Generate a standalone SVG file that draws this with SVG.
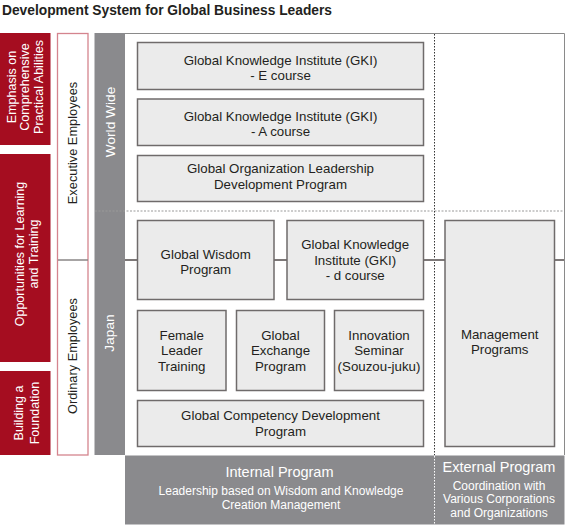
<svg xmlns="http://www.w3.org/2000/svg" width="565" height="525" viewBox="0 0 565 525">
<style>
text{font-family:"Liberation Sans",Arial,sans-serif;}
.title{font-size:15px;font-weight:bold;fill:#231f20;}
.red{fill:#a50d20;}
.rtxt{font-size:12.5px;fill:#ffffff;text-anchor:middle;}
.ptxt{font-size:12.8px;fill:#231f20;text-anchor:middle;}
.gtxt{font-size:13.7px;fill:#ffffff;text-anchor:middle;}
.box{fill:#ebebeb;stroke:#6f6b6b;stroke-width:1.5;}
.btxt{font-size:13.3px;fill:#231f20;text-anchor:middle;}
.band{fill:#8a8a8d;}
.bh{font-size:14.5px;fill:#ffffff;text-anchor:middle;}
.bs{font-size:12px;fill:#ffffff;text-anchor:middle;}
</style>
<text class="title" x="2" y="15" textLength="330" lengthAdjust="spacingAndGlyphs">Development System for Global Business Leaders</text>

<g id="emphasis">
<rect class="red" x="0" y="33" width="50.5" height="112"/>
<text class="rtxt" transform="translate(0,87) rotate(-90)"><tspan x="0" y="15.5">Emphasis on</tspan><tspan x="0" y="29">Comprehensive</tspan><tspan x="0" y="42.5">Practical Abilities</tspan></text>
</g>
<g id="opportunities">
<rect class="red" x="0" y="154" width="50.5" height="208"/>
<text class="rtxt" transform="translate(0,254) rotate(-90)"><tspan x="0" y="23.5">Opportunities for Learning</tspan><tspan x="0" y="38">and Training</tspan></text>
</g>
<g id="foundation">
<rect class="red" x="0" y="371" width="50.5" height="84"/>
<text class="rtxt" transform="translate(0,413) rotate(-90)"><tspan x="0" y="22.5">Building a</tspan><tspan x="0" y="38.5">Foundation</tspan></text>
</g>

<g id="employees">
<rect x="57.5" y="33.5" width="30.5" height="421.5" fill="#ffffff" stroke="#d4848e" stroke-width="1.3"/>
<line x1="58" y1="260" x2="88" y2="260" stroke="#8a8686" stroke-width="1.5"/>
<text class="ptxt" transform="translate(0,143) rotate(-90)" x="0" y="77">Executive Employees</text>
<text class="ptxt" transform="translate(0,356) rotate(-90)" x="0" y="77">Ordinary Employees</text>
</g>

<g id="region">
<rect x="94.5" y="33" width="30.5" height="422" fill="#8a8a8d"/>
<path d="M125 33.5H564.5V455" fill="none" stroke="#8a8a8a" stroke-width="1"/>
<text class="gtxt" transform="translate(0,122) rotate(-90)" x="0" y="114.5">World Wide</text>
<text class="gtxt" transform="translate(0,333) rotate(-90)" x="0" y="113.5">Japan</text>
</g>

<g id="bottom">
<rect class="band" x="125" y="455.5" width="439.5" height="69"/>
<text class="bh" x="279.5" y="477">Internal Program</text>
<text class="bs" x="281" y="495">Leadership based on Wisdom and Knowledge</text>
<text class="bs" x="281" y="509">Creation Management</text>
<text class="bh" x="499" y="472">External Program</text>
<text class="bs" x="499" y="489.5">Coordination with</text>
<text class="bs" x="499" y="503">Various Corporations</text>
<text class="bs" x="499" y="516.5">and Organizations</text>
</g>

<g id="connectors">
<line x1="95" y1="211" x2="564" y2="211" stroke="#9a9a9a" stroke-width="1.2" stroke-dasharray="2,1.5"/>
<line x1="434.5" y1="34" x2="434.5" y2="455" stroke="#333333" stroke-width="1" stroke-dasharray="1.5,1.5"/>
<line x1="434.5" y1="456" x2="434.5" y2="524" stroke="#ffffff" stroke-width="1" stroke-dasharray="1.5,1.5"/>
<line x1="125" y1="260" x2="564" y2="260" stroke="#7d7878" stroke-width="1.8"/>
</g>

<g id="gki-e">
<rect class="box" x="137.5" y="42.5" width="286" height="47"/>
<text class="btxt"><tspan x="280.5" y="64.5">Global Knowledge Institute (GKI)</tspan><tspan x="280.5" y="80">- E course</tspan></text>
</g>
<g id="gki-a">
<rect class="box" x="137.5" y="99" width="286" height="46.5"/>
<text class="btxt"><tspan x="280.5" y="120.7">Global Knowledge Institute (GKI)</tspan><tspan x="280.5" y="136">- A course</tspan></text>
</g>
<g id="gold">
<rect class="box" x="137.5" y="155.5" width="286" height="46"/>
<text class="btxt"><tspan x="280.5" y="172.5">Global Organization Leadership</tspan><tspan x="280.5" y="189">Development Program</tspan></text>
</g>
<g id="wisdom">
<rect class="box" x="137.5" y="220.5" width="136.5" height="79"/>
<text class="btxt"><tspan x="205.7" y="258.5">Global Wisdom</tspan><tspan x="205.7" y="274">Program</tspan></text>
</g>
<g id="gki-d">
<rect class="box" x="287" y="220.5" width="136.5" height="79"/>
<text class="btxt"><tspan x="355.2" y="248.5">Global Knowledge</tspan><tspan x="355.2" y="264.5">Institute (GKI)</tspan><tspan x="355.2" y="280">- d course</tspan></text>
</g>
<g id="female">
<rect class="box" x="137.5" y="310.5" width="88.5" height="80"/>
<text class="btxt"><tspan x="181.7" y="339.5">Female</tspan><tspan x="181.7" y="355">Leader</tspan><tspan x="181.7" y="370.5">Training</tspan></text>
</g>
<g id="exchange">
<rect class="box" x="236.5" y="310.5" width="88" height="80"/>
<text class="btxt"><tspan x="280.5" y="339.5">Global</tspan><tspan x="280.5" y="355">Exchange</tspan><tspan x="280.5" y="370.5">Program</tspan></text>
</g>
<g id="innovation">
<rect class="box" x="334.5" y="310.5" width="89" height="80"/>
<text class="btxt"><tspan x="379" y="339.5">Innovation</tspan><tspan x="379" y="355">Seminar</tspan><tspan x="379" y="370.5">(Souzou-juku)</tspan></text>
</g>
<g id="competency">
<rect class="box" x="137.5" y="400.5" width="286" height="46"/>
<text class="btxt"><tspan x="280.5" y="420">Global Competency Development</tspan><tspan x="280.5" y="435.5">Program</tspan></text>
</g>
<g id="management">
<rect class="box" x="445" y="220.5" width="109.5" height="226"/>
<text class="btxt"><tspan x="499.7" y="338.5">Management</tspan><tspan x="499.7" y="354">Programs</tspan></text>
</g>
</svg>
